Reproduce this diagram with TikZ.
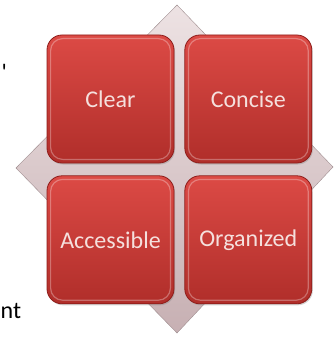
\documentclass[tikz,border=0pt]{standalone}
\usepackage{fontspec}
\setmainfont{Carlito}
\usetikzlibrary{positioning,shadows}

\definecolor{cardtop}{HTML}{DC4A45}
\definecolor{cardbot}{HTML}{B02E2A}
\definecolor{cardedge}{HTML}{8E1D1A}
\definecolor{cardtext}{HTML}{F5E0DD}
\definecolor{diamtop}{HTML}{EDE2E3}
\definecolor{diambot}{HTML}{C7B0B3}

\tikzset{
  card/.style={rounded corners=15pt, minimum width=127pt, minimum height=128pt,
    top color=cardtop, bottom color=cardbot, draw=cardedge, line width=0.8pt,
    text=cardtext, font=\fontsize{24}{28}\selectfont, inner sep=0pt,
    drop shadow={shadow xshift=1pt, shadow yshift=-1.5pt, opacity=0.35}},
  shine/.style={rounded corners=12pt, draw=white, opacity=0.3, line width=1.2pt},
  side/.style={font=\fontsize{24}{28}\selectfont, text=black, inner sep=0pt}
}

\begin{document}
\begin{tikzpicture}[x=1pt,y=-1pt]
  \useasboundingbox (0,0) rectangle (335,337);
  % backdrop diamond
  \shade[top color=diamtop, bottom color=diambot, draw=diambot!80!black, line width=0.4pt]
    (177,5) -- (333,167) -- (177,333) -- (16,168) -- cycle;

  % the four cards
  \node[card] (clear) at (110.5,99) {Clear};
  \node[card, right=10pt of clear] (concise) {Concise};
  \node[card, below=12pt of clear] (accessible) {Accessible};
  \node[card, right=10pt of accessible] (organized) {Organized};

  % bevel highlight
  \foreach \c in {clear,concise,accessible,organized}
    \draw[shine] ([shift={(4pt,-4pt)}]\c.north west) rectangle ([shift={(-4pt,4pt)}]\c.south east);

  % words cut off at the left margin
  \node[side, anchor=base east] (quote) at (7,80) {\textquotesingle};
  \node[side, anchor=base west] (tail) at (0.5,318) {nt};
\end{tikzpicture}
\end{document}
